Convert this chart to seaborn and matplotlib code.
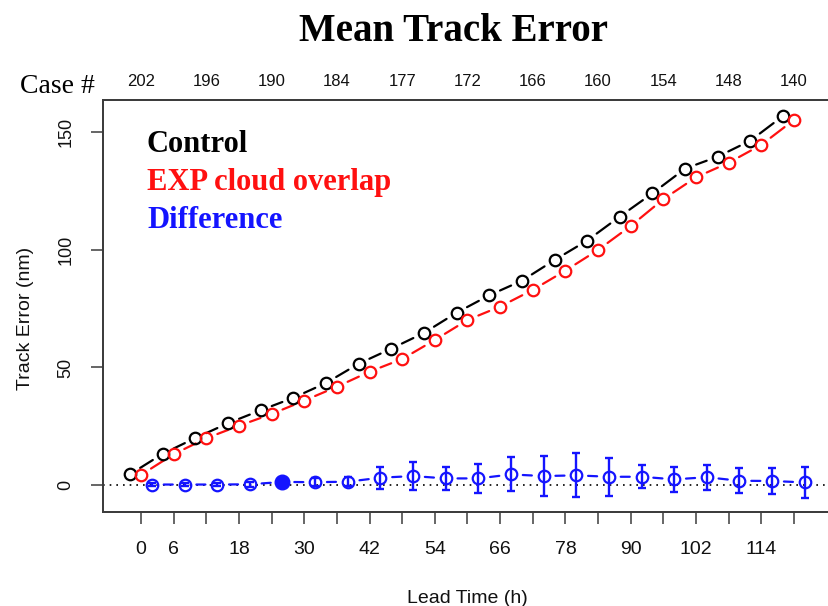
import matplotlib
matplotlib.use("Agg")
import matplotlib.pyplot as plt
import seaborn as sns
import pandas as pd

# ---------------- data ----------------
lead_time = [0, 6, 12, 18, 24, 30, 36, 42, 48, 54, 60,
             66, 72, 78, 84, 90, 96, 102, 108, 114, 120]
control = [4.6, 13.3, 20.0, 26.3, 31.8, 37.1, 43.4, 51.6, 58.0, 64.7, 73.3,
           80.7, 86.9, 95.7, 104.0, 114.2, 124.1, 134.6, 139.7, 146.5, 157.0]
exp_cloud = [4.3, 13.1, 19.9, 25.2, 30.2, 35.9, 41.8, 48.2, 53.6, 61.7, 70.2,
             75.9, 83.0, 91.2, 100.0, 110.2, 121.6, 130.9, 137.1, 144.7, 155.3]
difference = [0.2, 0.2, 0.2, 0.3, 1.3, 1.2, 1.4, 3.1, 3.8, 2.8, 2.8,
              4.5, 3.8, 4.1, 3.5, 3.5, 2.4, 3.3, 1.8, 1.7, 1.1]
difference_err = [0.6, 0.6, 0.6, 1.0, 0.0, 1.8, 1.8, 4.7, 5.9, 5.0, 6.0,
                  7.2, 8.4, 9.4, 8.1, 4.8, 5.2, 5.3, 5.3, 5.4, 6.5]
difference_sig = [False, False, False, False, True, False, False, False, False, False, False,
                  False, False, False, False, False, False, False, False, False, False]
case_hours = [0, 12, 24, 36, 48, 60, 72, 84, 96, 108, 120]
case_counts = ["202", "196", "190", "184", "177", "172", "166", "160", "154", "148", "140"]
xtick_hours = [0, 6, 12, 18, 24, 30, 36, 42, 48, 54, 60,
               66, 72, 78, 84, 90, 96, 102, 108, 114, 120]
xtick_labels = ["0", "6", "", "18", "", "30", "", "42", "", "54", "",
                "66", "", "78", "", "90", "", "102", "", "114", ""]
ytick_values = [0, 50, 100, 150]
series_names = ["Control", "EXP cloud overlap", "Difference"]
series_offsets = [-2, 0, 2]

BLACK = "#000000"
RED = "#ff1010"
BLUE = "#1414ff"
SPINE = "#3c3c3c"

sns.set_theme(style="ticks")
plt.rcParams["font.family"] = ["Liberation Sans", "DejaVu Sans"]
SERIF = ["Liberation Serif", "DejaVu Serif"]

fig = plt.figure(figsize=(8.29, 6.06), dpi=100)
ax = fig.add_axes([0.1242, 0.1543, 0.8794, 0.6807])
ax.set_xlim(-7, 127)
ax.set_ylim(-11.7, 163.8)

# zero reference line
ax.axhline(0, color="black", lw=1.2, ls=(0, (1, 3)), zorder=1)


def draw_series(values, color, offset, filled=None):
    xs = [t + offset for t in lead_time]
    # segments with gaps around the points (R type = "b")
    for i in range(len(xs) - 1):
        ax.annotate("", xy=(xs[i + 1], values[i + 1]), xytext=(xs[i], values[i]),
                    xycoords="data", textcoords="data",
                    arrowprops=dict(arrowstyle="-", color=color, lw=1.6,
                                    shrinkA=8.5, shrinkB=8.5),
                    zorder=2)
    df = pd.DataFrame({"x": xs, "y": values})
    if filled is None:
        filled = [False] * len(xs)
    open_df = df[[not f for f in filled]]
    fill_df = df[list(filled)]
    sns.lineplot(data=open_df, x="x", y="y", ax=ax, linestyle="none", marker="o",
                 markersize=8.3, markerfacecolor="none", markeredgecolor=color,
                 markeredgewidth=1.6, color=color, zorder=4)
    if len(fill_df):
        sns.lineplot(data=fill_df, x="x", y="y", ax=ax, linestyle="none", marker="o",
                     markersize=10.5, markerfacecolor=color, markeredgecolor=color,
                     markeredgewidth=1.0, color=color, zorder=4)
    return xs


draw_series(control, BLACK, series_offsets[0])
draw_series(exp_cloud, RED, series_offsets[1])
xs_diff = draw_series(difference, BLUE, series_offsets[2], filled=difference_sig)
ax.errorbar(xs_diff, difference, yerr=difference_err, fmt="none", ecolor=BLUE,
            elinewidth=1.7, capsize=3, capthick=1.7, zorder=3)

# axes styling
for s in ax.spines.values():
    s.set_color(SPINE)
    s.set_linewidth(1.3)
ax.set_xticks(xtick_hours)
ax.set_xticklabels(xtick_labels)
ax.set_yticks(ytick_values)
ax.set_yticklabels([str(v) for v in ytick_values])
ax.tick_params(axis="x", direction="out", length=8.6, width=1.1, color=SPINE,
               pad=12, labelsize=14, labelcolor="#111111")
ax.tick_params(axis="y", direction="out", length=8.6, width=1.1, color=SPINE,
               pad=12, labelsize=13, labelcolor="#111111", labelrotation=90)
for lab in ax.get_yticklabels():
    lab.set_va("center")

ax.set_xlabel("Lead Time (h)", fontsize=14, color="#111111")
ax.xaxis.set_label_coords(0.5, -0.187)
ax.xaxis.label.set_va("top")
ax.set_ylabel("Track Error (nm)", fontsize=14, color="#111111")
ax.yaxis.set_label_coords(-0.094, 0.47)

# top axis with case counts
top = ax.twiny()
top.set_xlim(ax.get_xlim())
top.set_xticks(case_hours)
top.set_xticklabels(case_counts)
top.tick_params(axis="x", length=0, pad=8, labelsize=12, labelcolor="#111111")
for s in top.spines.values():
    s.set_color(SPINE)
    s.set_linewidth(1.3)

# legend as coloured text
legend_colors = [BLACK, RED, BLUE]
legend_y = [0.874, 0.782, 0.690]
for name, col, yy in zip(series_names, legend_colors, legend_y):
    ax.text(0.0604, yy, name, transform=ax.transAxes, fontsize=22, fontweight="bold",
            family=SERIF, color=col, va="baseline", ha="left")

fig.text(454 / 829, 1 - 40.7 / 606, "Mean Track Error", ha="center", va="baseline",
         fontsize=28, fontweight="bold", family=SERIF, color="black")
fig.text(20 / 829, 1 - 93 / 606, "Case #", ha="left", va="baseline",
         fontsize=20, family=SERIF, color="black")

fig.savefig("out.png", dpi=100, facecolor="white")
